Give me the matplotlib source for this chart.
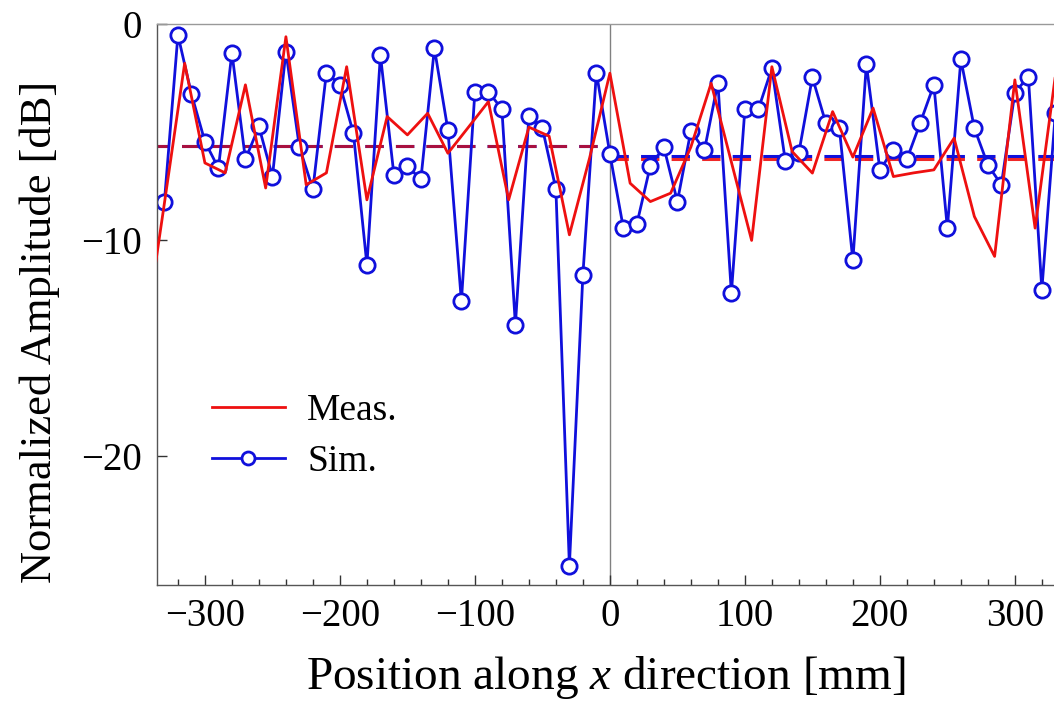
import matplotlib
matplotlib.use("Agg")
import matplotlib.pyplot as plt
from matplotlib.ticker import MultipleLocator, FixedLocator

plt.rcParams['font.family'] = ['Liberation Serif', 'DejaVu Serif']
plt.rcParams['mathtext.fontset'] = 'custom'
plt.rcParams['mathtext.rm'] = 'Liberation Serif'
plt.rcParams['mathtext.it'] = 'Liberation Serif:italic'

# Simulation: every 10 mm
sim_x = list(range(-330, 331, 10))
sim_db = [-8.23, -0.51, -3.24, -5.45, -6.68, -1.33, -6.27, -4.75, -7.07, -1.28,
          -5.71, -7.65, -2.25, -2.82, -5.06, -11.16, -1.44, -6.99, -6.60, -7.19,
          -1.13, -4.91, -12.85, -3.13, -3.13, -3.95, -13.94, -4.26, -4.83, -7.65,
          -25.10, -11.62, -2.25, -6.02, -9.46, -9.26, -6.56, -5.71, -8.23, -4.95,
          -5.86, -2.72, -12.47, -3.95, -3.95, -2.05, -6.37, -5.96, -2.47, -4.60,
          -4.83, -10.96, -1.86, -6.76, -5.83, -6.27, -4.57, -2.82, -9.46, -1.64,
          -4.83, -6.53, -7.45, -3.18, -2.44, -12.31, -4.13]

# Measurement: every 15 mm
meas_x = list(range(-345, 331, 15))
meas_db = [-14.7, -8.3, -1.82, -6.44, -6.90, -2.82, -7.60, -0.59, -7.45, -6.90,
           -1.98, -8.15, -4.29, -5.14, -4.14, -5.99, -4.80, -3.60, -8.15, -4.78,
           -5.20, -9.77, -6.20, -2.28, -7.38, -8.23, -7.84, -5.70, -2.75, -6.40,
           -10.03, -1.98, -5.91, -6.91, -4.06, -6.17, -3.90, -7.07, -6.90, -6.76,
           -5.29, -8.92, -10.77, -2.59, -9.46, -2.40]

# Mean levels (dashed) for each half
left_x = [-340, 0]
right_x = [0, 340]
sim_mean_left = [-5.66, -5.66]
meas_mean_left = [-5.64, -5.64]
sim_mean_right = [-6.10, -6.10]
meas_mean_right = [-6.26, -6.26]

xticks = [-300, -200, -100, 0, 100, 200, 300]
yticks = [-20, -10, 0]

fig = plt.figure(figsize=(10.54, 7.07), dpi=100)
ax = fig.add_axes([157/1054, 1-585/707, 1-157/1054, (585-24)/707])

blue = '#1010dc'
red = '#ee1010'

ax.plot(left_x, sim_mean_left, color=blue, lw=2.2, dashes=(6, 4), zorder=1.6)
ax.plot(right_x, sim_mean_right, color=blue, lw=2.2, dashes=(6, 4), zorder=1.6)
ax.plot(left_x, meas_mean_left, color='#a81040', lw=2.2, dashes=(6, 4), zorder=1.7)
ax.plot(right_x, meas_mean_right, color=red, lw=2.2, dashes=(6, 4), zorder=1.7, alpha=0.9)

ax.plot(sim_x, sim_db, color=blue, lw=2.0, marker='o', ms=11,
        mfc='white', mec=blue, mew=2.0, zorder=2, label='Sim.')
ax.plot(meas_x, meas_db, color=red, lw=2.0, zorder=3, label='Meas.')

ax.axvline(0, color='#808080', lw=1.0, zorder=1)

ax.set_xlim(-335.5, 329)
ax.set_ylim(-26, 0)

ax.xaxis.set_major_locator(FixedLocator(xticks))
ax.xaxis.set_minor_locator(MultipleLocator(20))
ax.yaxis.set_major_locator(FixedLocator(yticks))
ax.tick_params(axis='both', which='major', direction='in', length=7, width=1,
               labelsize=28, color='#333333')
ax.tick_params(axis='x', which='minor', direction='in', length=4, width=1, color='#333333')
ax.tick_params(axis='x', which='major', pad=9)
ax.tick_params(axis='y', which='major', pad=11)
ax.tick_params(top=False, right=False, which='both')

for s in ['left', 'bottom']:
    ax.spines[s].set_color('#555555')
    ax.spines[s].set_linewidth(1.0)
ax.spines['top'].set_color('#999999')
ax.spines['top'].set_linewidth(1.0)
ax.spines['right'].set_visible(False)

ax.set_xlabel('Position along $x$ direction [mm]', fontsize=34, labelpad=14)
ax.set_ylabel('Normalized Amplitude [dB]', fontsize=32)
ax.yaxis.set_label_coords(-0.108, 0.451)

handles, labels = ax.get_legend_handles_labels()
leg = ax.legend(handles[::-1], labels[::-1], loc='center left',
                bbox_to_anchor=(0.061, 0.265), frameon=False, fontsize=27,
                borderpad=0, borderaxespad=0, handlelength=1.95,
                handletextpad=0.6, labelspacing=0.45, markerscale=0.85)

fig.savefig('out.png', dpi=100)
